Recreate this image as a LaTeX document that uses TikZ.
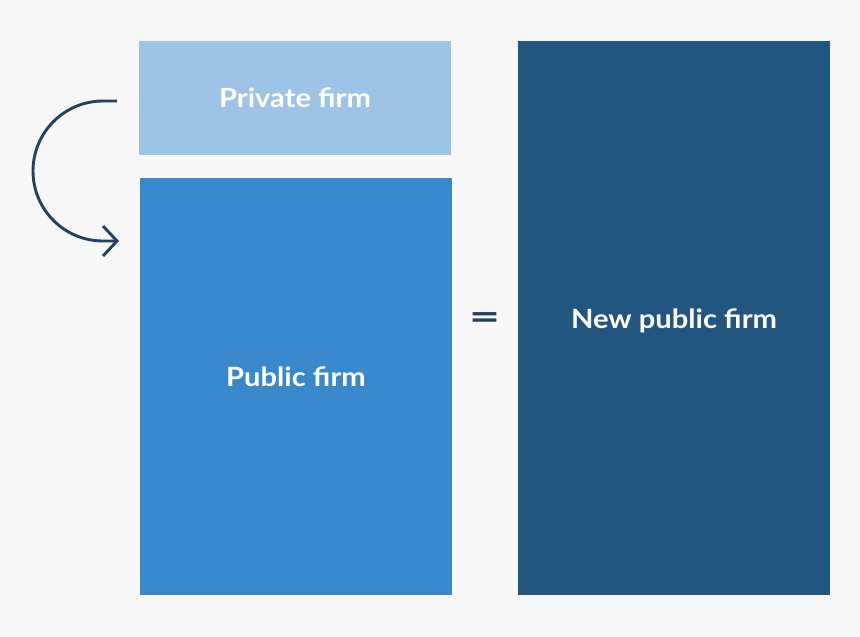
\documentclass[tikz,border=0pt]{standalone}
\usepackage{fontspec}
\setmainfont{Lato}[UprightFont=* Bold,FakeStretch=1.1]
\usetikzlibrary{arrows.meta}
\definecolor{bg}{HTML}{F7F7F7}
\definecolor{lightblue}{HTML}{9DC3E6}
\definecolor{midblue}{HTML}{3A88CC}
\definecolor{darkblue}{HTML}{22557F}
\definecolor{navy}{HTML}{22405F}
\begin{document}
\begin{tikzpicture}[x=1pt,y=-1pt,
  box/.style={draw=none,anchor=north west,inner sep=0pt,outer sep=0pt},
  lbl/.style={text=white,font=\fontsize{26.5}{30}\selectfont,inner sep=0pt,anchor=base}]
\fill[bg] (0,0) rectangle (860,637);
\useasboundingbox (0,0) rectangle (860,637);
\node[box,fill=lightblue,minimum width=312pt,minimum height=114pt] (priv) at (139,41) {};
\node[box,fill=midblue,minimum width=312pt,minimum height=417pt] (pub) at (140,178) {};
\node[box,fill=darkblue,minimum width=312pt,minimum height=554pt] (new) at (518,41) {};
\node[lbl] (tpriv) at (295,107) {Private firm};
\node[lbl] (tpub) at (296,386) {Public firm};
\node[lbl] (tnew) at (674,328) {New public firm};
\node[text=navy,font=\fontsize{36}{36}\selectfont,inner sep=0pt] (eq) at (485,321) {\scalebox{1.35}[1]{=}};
\coordinate (a0) at (117,101);
\coordinate (a1) at (119,241);
\draw[navy,line width=2.9pt,-{Straight Barb[length=14pt,width=30pt,line width=2.9pt]}]
  (a0) -- (103,101) arc[start angle=270,end angle=90,radius=70] -- (a1);
\end{tikzpicture}
\end{document}
